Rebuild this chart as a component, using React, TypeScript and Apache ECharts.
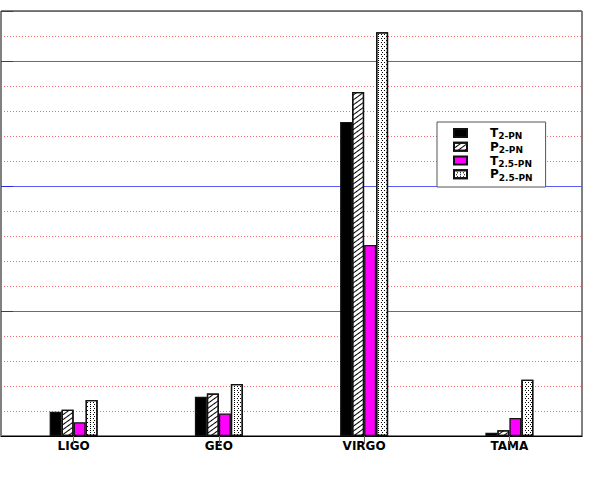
import React, { useEffect, useRef } from "react";
import * as echarts from "echarts";

const categories = ["LIGO", "GEO", "VIRGO", "TAMA"];
const seriesNames = ["T2-PN", "P2-PN", "T2.5-PN", "P2.5-PN"];
const t2pn = [0.97, 1.57, 12.56, 0.13];
const p2pn = [1.05, 1.7, 13.76, 0.23];
const t25pn = [0.55, 0.9, 7.64, 0.72];
const p25pn = [1.44, 2.08, 16.15, 2.25];
const yMax = 17;
const minorStep = 1;
const majorStep = 5;

const FONT = "DejaVu Sans, Liberation Sans, Arial, sans-serif";
const BLUE = "#5a5af8";
const RED = "#ff6a6a";
const NONE = "rgba(0,0,0,0)";

export default function App() {
  const ref = useRef<HTMLDivElement>(null);
  useEffect(() => {
    if (!ref.current) return;
    const chart = echarts.init(ref.current, null, { renderer: "svg" });
    const hatch = {
      symbol: "rect",
      color: "#000",
      dashArrayX: [1, 0],
      dashArrayY: [1, 3],
      rotation: -Math.PI / 5,
    };
    const dots = {
      symbol: "rect",
      color: "#000",
      dashArrayX: [[1, 2], [0, 1.5, 1, 0.5]],
      dashArrayY: [1, 1],
    };
    const border = { borderColor: "#111", borderWidth: 1.3 };
    const mk = (name: string, data: number[], itemStyle: any) => ({
      name,
      type: "bar",
      data,
      barWidth: 12,
      barGap: "0%",
      z: 3,
      itemStyle: { ...border, ...itemStyle },
    });
    // minor lines skip every major position (cycle of 5)
    const minorColors = [NONE, RED, RED, RED, RED];
    chart.setOption({
      animation: false,
      backgroundColor: "#fff",
      textStyle: { fontFamily: FONT },
      grid: {
        left: 1,
        right: 17,
        top: 11,
        bottom: 55,
        show: true,
        borderColor: "#000",
        borderWidth: 1,
        backgroundColor: "transparent",
      },
      legend: {
        orient: "vertical",
        left: 437,
        top: 122,
        backgroundColor: "#fff",
        borderColor: "#555",
        borderWidth: 1,
        padding: [5, 13, 5, 16],
        itemGap: 0,
        itemWidth: 13,
        itemHeight: 8,
        icon: "rect",
        data: seriesNames,
        formatter: (n: string) => `{m|${n.charAt(0)}}{s|${n.slice(1)}}`,
        textStyle: {
          padding: [0, 0, 0, 18],
          rich: {
            m: { fontSize: 12, fontWeight: "bold", color: "#000", fontFamily: FONT, lineHeight: 15.5, verticalAlign: "middle" },
            s: { fontSize: 9, fontWeight: "bold", color: "#000", fontFamily: FONT, lineHeight: 15.5, verticalAlign: "bottom" },
          },
        },
      },
      xAxis: [
        {
          type: "category",
          data: categories,
          position: "bottom",
          z: 4,
          axisLine: { lineStyle: { color: "#7f7fa0", width: 1 } },
          axisTick: { show: false },
          axisLabel: { color: "#000", fontWeight: "bold", fontSize: 12, margin: 4, fontFamily: FONT },
        },
        {
          type: "category",
          data: categories,
          position: "top",
          z: 5,
          axisLine: { lineStyle: { color: "#000", width: 1 } },
          axisTick: { show: true, inside: true, alignWithLabel: true, length: 8, lineStyle: { color: "#666" } },
          axisLabel: { show: false },
        },
      ],
      yAxis: [
        {
          type: "value",
          min: 0,
          max: yMax,
          interval: minorStep,
          z: 1,
          axisLine: { show: true, lineStyle: { color: "#808080" } },
          axisTick: { show: false },
          axisLabel: { show: false },
          splitLine: { show: true, showMinLine: true, showMaxLine: true, lineStyle: { color: minorColors, width: 1, type: [1, 2] } },
        },
        {
          type: "value",
          min: 0,
          max: yMax,
          interval: majorStep,
          position: "left",
          z: 2,
          axisLine: { show: true, lineStyle: { color: "#808080" } },
          axisTick: { show: true, inside: true, length: 12, lineStyle: { color: "#2a2ae0", width: 1 } },
          axisLabel: { show: false },
          splitLine: { show: true, lineStyle: { color: BLUE, width: 1, type: "solid" } },
        },
      ],
      series: [
        mk(seriesNames[0], t2pn, { color: "#000" }),
        mk(seriesNames[1], p2pn, { color: "#fff", decal: hatch }),
        mk(seriesNames[2], t25pn, { color: "#ff00ff" }),
        mk(seriesNames[3], p25pn, { color: "#fff", decal: dots }),
      ],
    });
    return () => chart.dispose();
  }, []);
  return <div ref={ref} style={{ width: 599, height: 491, position: "absolute", left: 0, top: 0 }} />;
}
